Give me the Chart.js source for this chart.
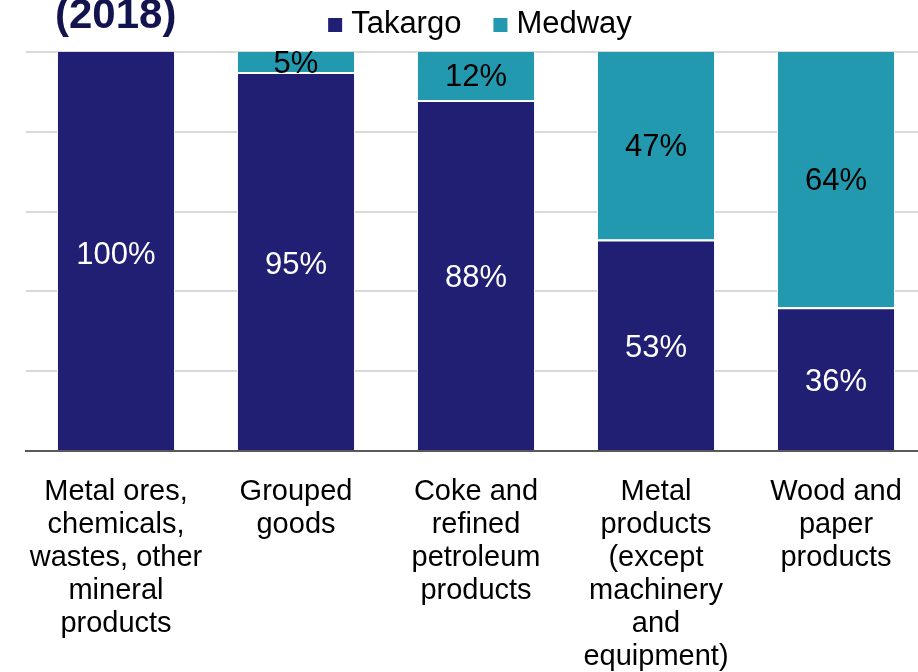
<!DOCTYPE html>
<html>
<head>
<meta charset="utf-8">
<script src="https://cdn.jsdelivr.net/npm/chart.js@4.4.0/dist/chart.umd.min.js"></script>
<style>
  html, body { margin: 0; padding: 0; background: #fff; }
  #wrap { position: relative; width: 918px; height: 672px; overflow: hidden; }
  #chart-box { position: absolute; left: 0; top: 0; width: 940px; height: 672px; }
  #title {
    position: absolute; left: 55px; top: -10px;
    font: bold 42px "Liberation Sans", Arial, sans-serif;
    color: #13144f; white-space: nowrap;
  }
</style>
</head>
<body>
<div id="wrap">
  <div id="chart-box"><canvas id="share-chart"></canvas></div>
  <div id="title">(2018)</div>
</div>
<script>
// Chart data
const categories = [
  ['Metal ores,', 'chemicals,', 'wastes, other', 'mineral', 'products'],
  ['Grouped', 'goods'],
  ['Coke and', 'refined', 'petroleum', 'products'],
  ['Metal', 'products', '(except', 'machinery', 'and', 'equipment)'],
  ['Wood and', 'paper', 'products']
];
const takargoShare = [100, 95, 88, 53, 36];
const medwayShare = [0, 5, 12, 47, 64];
const yTicks = [0, 20, 40, 60, 80, 100];

const FONT = '"Liberation Sans", Arial, sans-serif';

// Percent labels inside each bar segment
const segmentLabels = {
  id: 'segmentLabels',
  afterDatasetsDraw(chart) {
    const ctx = chart.ctx;
    ctx.save();
    ctx.font = '31px ' + FONT;
    ctx.textAlign = 'center';
    ctx.textBaseline = 'middle';
    chart.data.datasets.forEach((ds, i) => {
      const meta = chart.getDatasetMeta(i);
      meta.data.forEach((bar, j) => {
        const v = ds.data[j];
        if (!v) return;
        ctx.fillStyle = ds.labelColor;
        ctx.fillText(v + '%', bar.x, (bar.y + bar.base) / 2 + ds.labelShift);
      });
    });
    ctx.restore();
  }
};

// Legend drawn at the top, centred over the plot
const topLegend = {
  id: 'topLegend',
  afterDraw(chart) {
    const ctx = chart.ctx;
    const area = chart.chartArea;
    ctx.save();
    ctx.font = '31px ' + FONT;
    ctx.textBaseline = 'alphabetic';
    const box = 14, gapBox = 9, gapItem = 32;
    const items = chart.data.datasets.map(ds => ({
      text: ds.label, color: ds.backgroundColor, w: ctx.measureText(ds.label).width
    }));
    let total = 0;
    items.forEach((it, i) => { total += box + gapBox + it.w + (i ? gapItem : 0); });
    let x = (area.left + area.right) / 2 + 4 - total / 2;
    items.forEach(it => {
      ctx.fillStyle = it.color;
      ctx.fillRect(x, 18, box, box);
      ctx.fillStyle = '#000';
      ctx.fillText(it.text, x + box + gapBox, 33);
      x += box + gapBox + it.w + gapItem;
    });
    ctx.restore();
  }
};

const ctx = document.getElementById('share-chart').getContext('2d');
new Chart(ctx, {
  type: 'bar',
  data: {
    labels: categories,
    datasets: [
      {
        label: 'Takargo',
        data: takargoShare,
        backgroundColor: '#211f73',
        labelColor: '#fff',
        labelShift: 4,
        borderColor: '#fff',
        borderWidth: c => ({ top: medwayShare[c.dataIndex] > 0 ? 2 : 0, left: 1, right: 1, bottom: 0 }),
        borderSkipped: false
      },
      {
        label: 'Medway',
        data: medwayShare,
        backgroundColor: '#2299ae',
        labelColor: '#000',
        labelShift: 2,
        borderColor: '#fff',
        borderWidth: { top: 0, left: 1, right: 1, bottom: 0 },
        borderSkipped: false
      }
    ]
  },
  options: {
    responsive: true,
    maintainAspectRatio: false,
    animation: false,
    categoryPercentage: 1,
    barPercentage: 0.656,
    layout: { padding: { left: 26, right: 14, top: 52, bottom: 0 } },
    plugins: {
      legend: { display: false },
      tooltip: { enabled: false }
    },
    scales: {
      x: {
        stacked: true,
        grid: { display: false, drawTicks: false },
        border: { display: true, color: '#595959', width: 2 },
        ticks: {
          color: '#000',
          font: { family: FONT, size: 29, lineHeight: 1.14 },
          padding: 24,
          maxRotation: 0,
          autoSkip: false
        },
        afterFit(scale) { scale.height = 221; }
      },
      y: {
        stacked: true,
        min: 0,
        max: 100,
        afterBuildTicks(scale) { scale.ticks = yTicks.map(v => ({ value: v })); },
        grid: { color: '#d9d9d9', lineWidth: 2, drawTicks: false },
        border: { display: false },
        ticks: { display: false },
        afterFit(scale) { scale.width = 0; }
      }
    }
  },
  plugins: [segmentLabels, topLegend]
});
</script>
</body>
</html>
